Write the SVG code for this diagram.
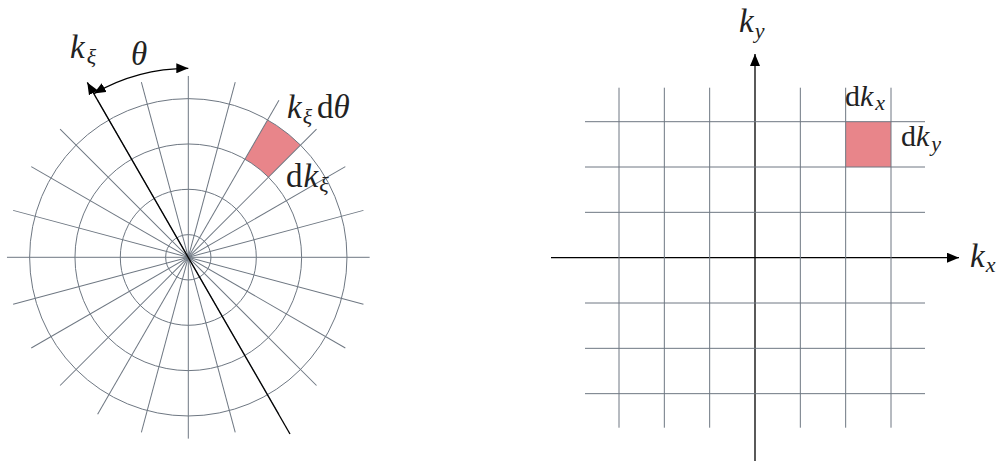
<svg xmlns="http://www.w3.org/2000/svg" width="1000" height="461" viewBox="0 0 1000 461">
<style>
.grid{stroke:#6e7782;stroke-width:1;fill:none}
.axis{stroke:#000;stroke-width:1.3;fill:none}
.shade{fill:#e8858a;stroke:none}
.lbl{font-family:"Liberation Serif","DejaVu Serif",serif;fill:#222;font-size:33px}
.it{font-style:italic}
.sub{font-size:22px;font-style:italic}
</style>
<defs>
<marker id="arr" markerUnits="userSpaceOnUse" markerWidth="14" markerHeight="10" refX="12" refY="5" orient="auto-start-reverse" viewBox="0 0 14 10">
<path d="M0,0 L12,5 L0,10 Z" fill="#000"/>
</marker>
</defs>
<rect width="1000" height="461" fill="#fff"/>
<g id="polar" transform="translate(188.3,257.3)">
<path class="shade" d="M56.67,-98.15 L79.33,-137.41 A158.67,158.67 0 0 1 112.2,-112.2 L80.14,-80.14 A113.33,113.33 0 0 0 56.67,-98.15 Z"/>
<g class="grid">
<circle r="22.67"/><circle r="68"/><circle r="113.33"/><circle r="158.67"/>
<line x1="-181.33" y1="0" x2="181.33" y2="0"/>
<line x1="-181.33" y1="0" x2="181.33" y2="0" transform="rotate(15)"/>
<line x1="-181.33" y1="0" x2="181.33" y2="0" transform="rotate(30)"/>
<line x1="-181.33" y1="0" x2="181.33" y2="0" transform="rotate(45)"/>
<line x1="-181.33" y1="0" x2="181.33" y2="0" transform="rotate(60)"/>
<line x1="-181.33" y1="0" x2="181.33" y2="0" transform="rotate(75)"/>
<line x1="-181.33" y1="0" x2="181.33" y2="0" transform="rotate(90)"/>
<line x1="-181.33" y1="0" x2="181.33" y2="0" transform="rotate(105)"/>
<line x1="-181.33" y1="0" x2="181.33" y2="0" transform="rotate(120)"/>
<line x1="-181.33" y1="0" x2="181.33" y2="0" transform="rotate(135)"/>
<line x1="-181.33" y1="0" x2="181.33" y2="0" transform="rotate(150)"/>
<line x1="-181.33" y1="0" x2="181.33" y2="0" transform="rotate(165)"/>
</g>
</g>
<g id="connectors">
<line class="axis" x1="290" y1="434" x2="87.3" y2="82.4" marker-end="url(#arr)"/>
<path class="axis" d="M93.8,93.6 A189,189 0 0 1 188.3,68.3" marker-start="url(#arr)" marker-end="url(#arr)"/>
<line class="axis" x1="551" y1="257.7" x2="959" y2="257.7" marker-end="url(#arr)"/>
<line class="axis" x1="755" y1="461" x2="755" y2="54" marker-end="url(#arr)"/>
</g>
<g id="cartesian">
<rect class="shade" x="845.67" y="121.7" width="45.33" height="45.33"/>
<g class="grid">
<line x1="619" y1="87.7" x2="619" y2="427.7"/>
<line x1="664.33" y1="87.7" x2="664.33" y2="427.7"/>
<line x1="709.67" y1="87.7" x2="709.67" y2="427.7"/>
<line x1="800.33" y1="87.7" x2="800.33" y2="427.7"/>
<line x1="845.67" y1="87.7" x2="845.67" y2="427.7"/>
<line x1="891" y1="87.7" x2="891" y2="427.7"/>
<line x1="585" y1="121.7" x2="925" y2="121.7"/>
<line x1="585" y1="167" x2="925" y2="167"/>
<line x1="585" y1="212.33" x2="925" y2="212.33"/>
<line x1="585" y1="303" x2="925" y2="303"/>
<line x1="585" y1="348.33" x2="925" y2="348.33"/>
<line x1="585" y1="393.67" x2="925" y2="393.67"/>
</g>
</g>
<g id="labels">
<text class="lbl" x="70" y="58"><tspan class="it">k</tspan><tspan class="sub" dx="2" dy="6">ξ</tspan></text>
<text class="lbl it" x="131" y="65">θ</text>
<text class="lbl" x="287" y="118"><tspan class="it">k</tspan><tspan class="sub" dx="1" dy="6">ξ</tspan><tspan dx="5" dy="-6">d</tspan><tspan class="it">θ</tspan></text>
<text class="lbl" x="286" y="187">d<tspan class="it" dx="1">k</tspan><tspan class="sub" dx="1" dy="5">ξ</tspan></text>
<text class="lbl" x="739" y="32"><tspan class="it">k</tspan><tspan class="sub" dx="1" dy="6">y</tspan></text>
<text class="lbl" x="970" y="267"><tspan class="it">k</tspan><tspan class="sub" dx="1" dy="5">x</tspan></text>
<text class="lbl" x="845" y="106" style="font-size:30px">d<tspan class="it">k</tspan><tspan class="sub" dx="2" dy="4">x</tspan></text>
<text class="lbl" x="901" y="146" style="font-size:30px">d<tspan class="it">k</tspan><tspan class="sub" dx="2" dy="5">y</tspan></text>
</g>
</svg>
